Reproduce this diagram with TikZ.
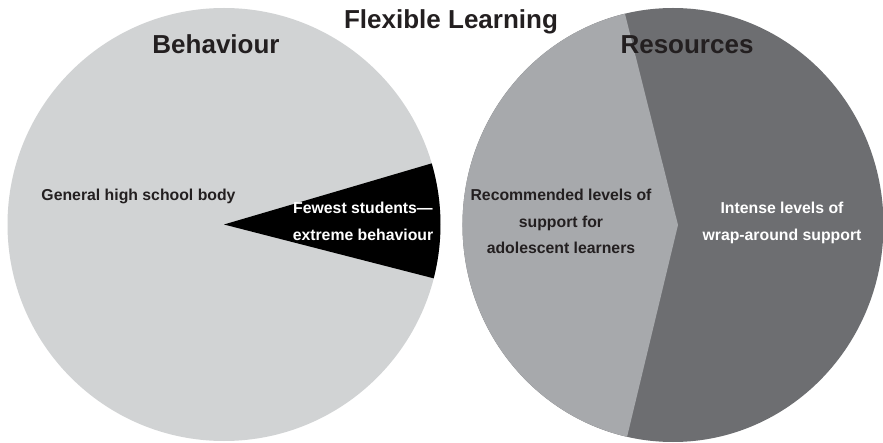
\documentclass[tikz,border=0pt]{standalone}
\usepackage{fontspec}
\usetikzlibrary{calc}
\setmainfont{Liberation Sans}
\definecolor{lightg}{HTML}{D1D3D4}
\definecolor{midg}{HTML}{A7A9AC}
\definecolor{darkg}{HTML}{6D6E71}
\definecolor{inkc}{HTML}{231F20}
\begin{document}
\begin{tikzpicture}[x=1pt,y=1pt,
  title/.style={font=\bfseries\fontsize{26}{30}\selectfont, text=inkc, inner sep=0pt},
  lbl/.style={font=\bfseries\fontsize{15.8}{26.8}\selectfont, text=inkc, align=center, inner sep=0pt},
  lblw/.style={lbl, text=white}]
\useasboundingbox (0,0) rectangle (883,442);
\fill[white] (0,0) rectangle (883,442);
% left pie
\coordinate (L) at (224,217.5);
\fill[lightg] (L) circle[radius=216.5];
\fill[black] (L) -- ([shift={(-14.4:216.5)}]L) arc[start angle=-14.4, end angle=16.4, radius=216.5] -- cycle;
% right pie
\coordinate (R) at (673,217);
\coordinate (Chev) at (678,217);
\fill[darkg] (R) ellipse[x radius=210.5, y radius=217];
\fill[midg] ($(R)+(103.2:210.5 and 217)$) arc[start angle=103.2, end angle=257.4, x radius=210.5, y radius=217] -- (Chev) -- cycle;
% texts
\node[title, anchor=base] (t) at (451,413) {Flexible Learning};
\node[title, anchor=base] (beh) at (216,388) {Behaviour};
\node[title, anchor=base] (res) at (687,388) {Resources};
\node[lbl, anchor=base] (gen) at (138.5,241.3) {General high school body};
\node[lblw] (few) at (363,221) {Fewest students—\\extreme behaviour};
\node[lbl] (rec) at (561,220.6) {Recommended levels of\\support for\\adolescent learners};
\node[lblw] (int) at (782,219.3) {Intense levels of\\wrap-around support};
\end{tikzpicture}
\end{document}
